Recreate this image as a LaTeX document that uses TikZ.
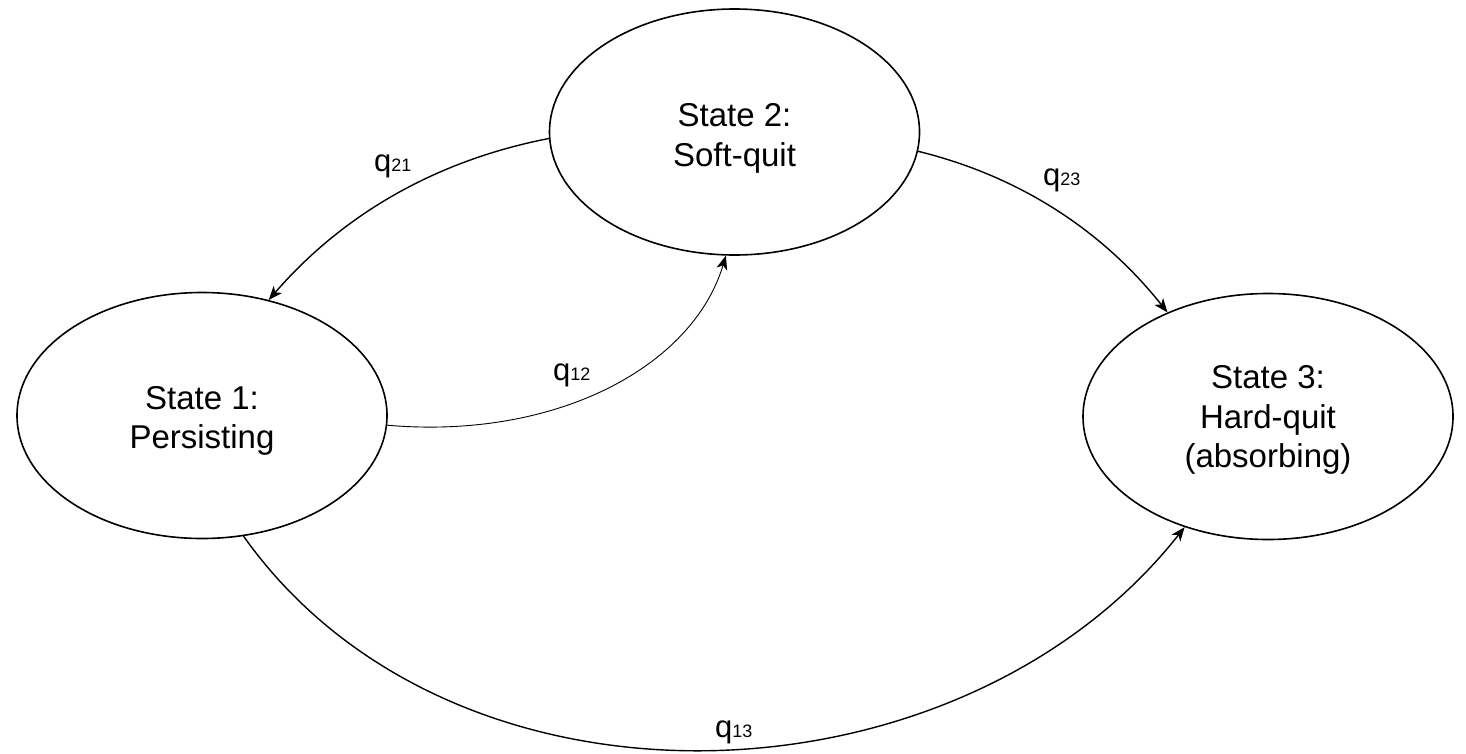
\documentclass[tikz,border=0pt]{standalone}
\usepackage{fontspec}
\setmainfont{Liberation Sans}
\usetikzlibrary{shapes.geometric,arrows.meta}
\newcommand\qlab[1]{q{\fontsize{18}{18}\selectfont #1}}
\newcommand\tup[1]{\rule{0pt}{#1}}
\begin{document}
\begin{tikzpicture}[x=1pt,y=-1pt,
  stnode/.style={draw, line width=1.6pt, ellipse, minimum width=370pt, minimum height=246pt,
    inner sep=0pt, align=center, font=\fontsize{33}{39.5}\selectfont},
  trans/.style={line width=1.4pt, -{Stealth[length=14pt,width=11pt,inset=4pt]}},
  thintrans/.style={trans, line width=0.9pt},
  lab/.style={anchor=base west, inner sep=0pt, font=\fontsize{31}{31}\selectfont}]
\fill[white] (0,0) rectangle (1466,753);
\useasboundingbox (0,0) rectangle (1466,753);

\node[stnode] (s2) at (734.5,132) {\tup{36pt}State 2:\\Soft-quit};
\node[stnode] (s1) at (202,415.5) {\tup{34pt}State 1:\\Persisting};
\node[stnode] (s3) at (1268,416.5) {\tup{30pt}State 3:\\Hard-quit\\(absorbing)};

\draw[trans] (s2.182) .. controls (438,160) and (344,213) .. (s1.60.5);
\draw[thintrans] (s1.357.4) .. controls (557,440) and (693,366) .. (s2.266);
\draw[trans] (s2.354) .. controls (1019,176) and (1102,230) .. (s3.134);
\draw[trans] (s1.289.6) .. controls (454,833) and (960,812) .. (s3.233);

\node[lab] (l21) at (374,171) {\qlab{21}};
\node[lab] (l12) at (553,380) {\qlab{12}};
\node[lab] (l23) at (1043,185) {\qlab{23}};
\node[lab] (l13) at (715,737) {\qlab{13}};
\end{tikzpicture}
\end{document}
